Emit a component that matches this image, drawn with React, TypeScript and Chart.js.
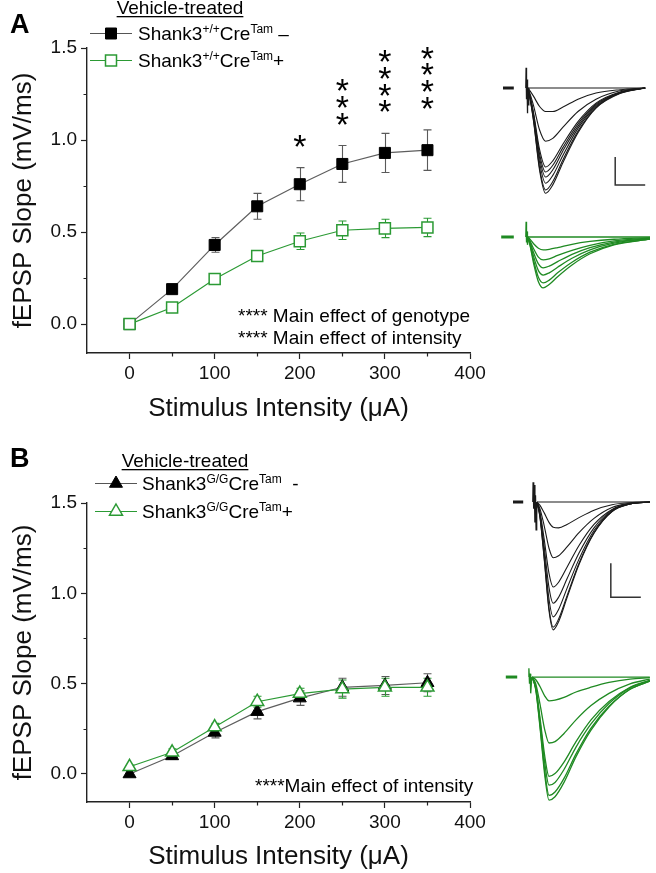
import React, { useEffect, useRef } from 'react';
import { Chart, registerables } from 'chart.js';

Chart.register(...registerables);

const FONT = '"Liberation Sans", Arial, Helvetica, sans-serif';
const GREEN = '#2b9a34';
const TRACE_GREEN = '#1f8a22';

// ---------- summary data (fEPSP slope, mV/ms) ----------
const intensities = [0, 50, 100, 150, 200, 250, 300, 350];
const xTickValues = [0, 100, 200, 300, 400];
const yTickValues = [0, 0.5, 1.0, 1.5];

const aCtrlMean = [0.0, 0.19, 0.43, 0.64, 0.76, 0.87, 0.93, 0.945];
const aCtrlErr = [0.01, 0.02, 0.04, 0.07, 0.09, 0.1, 0.106, 0.11];
const aTamMean = [0.0, 0.09, 0.245, 0.37, 0.45, 0.51, 0.52, 0.525];
const aTamErr = [0.01, 0.02, 0.015, 0.03, 0.045, 0.05, 0.05, 0.05];
const aStars = [0, 0, 0, 0, 1, 3, 4, 4];

const bCtrlMean = [0.0, 0.1, 0.23, 0.345, 0.42, 0.48, 0.49, 0.505];
const bCtrlErr = [0.01, 0.02, 0.03, 0.04, 0.04, 0.05, 0.05, 0.05];
const bTamMean = [0.04, 0.12, 0.26, 0.4, 0.445, 0.47, 0.48, 0.48];
const bTamErr = [0.01, 0.02, 0.02, 0.03, 0.03, 0.05, 0.05, 0.05];

const aNotes = ['**** Main effect of genotype', '**** Main effect of intensity'];
const bNotes = ['****Main effect of intensity'];

// ---------- example traces (time ms, mV) ----------
const aCtrlTime = [4.6, 5.0, 5.6, 6.6, 7.6, 8.8, 10.5, 13, 16, 20, 24.2];
const aCtrlTraces = [
  [0, 0, 0, 0, 0, 0, 0, 0, 0, 0, 0],
  [0, -0.05, -0.15, -0.33, -0.42, -0.42, -0.34, -0.2, -0.09, -0.03, 0],
  [0, -0.1, -0.32, -0.75, -0.95, -0.9, -0.7, -0.42, -0.2, -0.05, 0],
  [0, -0.14, -0.45, -1.1, -1.41, -1.3, -1.0, -0.6, -0.27, -0.07, 0],
  [0, -0.15, -0.48, -1.18, -1.5, -1.38, -1.06, -0.64, -0.29, -0.08, 0],
  [0, -0.16, -0.5, -1.25, -1.59, -1.46, -1.12, -0.68, -0.31, -0.08, 0],
  [0, -0.17, -0.54, -1.33, -1.7, -1.56, -1.2, -0.72, -0.33, -0.09, 0],
  [0, -0.18, -0.58, -1.43, -1.82, -1.67, -1.28, -0.77, -0.35, -0.09, 0],
  [0, -0.19, -0.6, -1.47, -1.88, -1.73, -1.33, -0.8, -0.36, -0.1, 0],
];
const aCtrlArtifact = [[4.3, 0], [4.35, 0.36], [4.42, -0.2], [4.5, 0.15], [4.56, -0.45], [4.62, -0.1], [4.7, -0.3], [4.8, 0]];
const aCtrlDash = [[0.5, 0], [2.3, 0]];
const aScaleBar = [[24.2, -1.73], [19.2, -1.73], [19.2, -1.23]];

const aTamTime = [4.6, 5.0, 5.6, 6.4, 7.2, 8.2, 9.6, 12, 15, 19, 25];
const aTamTraces = [
  [0, 0, 0, 0, 0, 0, 0, 0, 0, 0, 0],
  [0, -0.04, -0.12, -0.2, -0.23, -0.22, -0.19, -0.13, -0.08, -0.04, -0.01],
  [0, -0.07, -0.21, -0.36, -0.41, -0.39, -0.33, -0.24, -0.15, -0.07, -0.02],
  [0, -0.09, -0.28, -0.48, -0.55, -0.52, -0.44, -0.31, -0.19, -0.09, -0.03],
  [0, -0.11, -0.35, -0.6, -0.68, -0.64, -0.54, -0.38, -0.23, -0.11, -0.03],
  [0, -0.13, -0.42, -0.72, -0.82, -0.77, -0.64, -0.45, -0.27, -0.13, -0.04],
  [0, -0.15, -0.47, -0.8, -0.91, -0.85, -0.71, -0.5, -0.3, -0.14, -0.04],
];
const aTamArtifact = [[4.3, 0], [4.35, 0.27], [4.42, -0.1], [4.5, 0.1], [4.58, -0.14], [4.7, 0]];
const aTamDash = [[0.2, 0], [2.3, 0]];

const bCtrlTime = [4.0, 4.5, 5.2, 6.0, 6.7, 7.6, 9, 11, 13.5, 16.5, 19.5, 22.8];
const bCtrlTraces = [
  [0, 0, 0, 0, 0, 0, 0, 0, 0, 0, 0, 0],
  [0, -0.05, -0.16, -0.3, -0.37, -0.38, -0.33, -0.23, -0.12, -0.04, -0.01, 0],
  [0, -0.1, -0.35, -0.68, -0.82, -0.79, -0.66, -0.45, -0.24, -0.08, -0.02, 0],
  [0, -0.15, -0.55, -1.05, -1.25, -1.18, -0.96, -0.64, -0.33, -0.11, -0.02, 0],
  [0, -0.18, -0.66, -1.26, -1.49, -1.4, -1.13, -0.75, -0.38, -0.12, -0.03, 0],
  [0, -0.2, -0.75, -1.43, -1.69, -1.58, -1.27, -0.84, -0.42, -0.13, -0.03, 0],
  [0, -0.22, -0.82, -1.56, -1.84, -1.72, -1.38, -0.9, -0.45, -0.14, -0.03, 0],
  [0, -0.23, -0.84, -1.6, -1.88, -1.76, -1.41, -0.92, -0.46, -0.14, -0.03, 0],
];
const bCtrlArtifact = [[3.3, 0], [3.35, 0.29], [3.45, -0.1], [3.55, 0.25], [3.65, -0.3], [3.75, 0.1], [3.85, -0.41], [3.95, -0.2], [4.0, 0]];
const bCtrlDash = [[0, 0], [1.7, 0]];
const bScaleBar = [[21.3, -1.4], [16.3, -1.4], [16.3, -0.9]];

const bTamTime = [3.2, 3.8, 4.5, 5.3, 6.0, 7.0, 8.5, 10.5, 13, 16, 19.5, 22.8];
const bTamTraces = [
  [0, 0, 0, 0, 0, 0, 0, 0, 0, 0, 0, 0],
  [0, -0.04, -0.14, -0.28, -0.35, -0.34, -0.3, -0.22, -0.15, -0.08, -0.03, -0.01],
  [0, -0.1, -0.4, -0.78, -0.97, -0.95, -0.83, -0.63, -0.42, -0.24, -0.1, -0.03],
  [0, -0.15, -0.6, -1.17, -1.46, -1.42, -1.25, -0.95, -0.63, -0.36, -0.15, -0.05],
  [0, -0.16, -0.65, -1.27, -1.59, -1.55, -1.36, -1.03, -0.69, -0.39, -0.16, -0.05],
  [0, -0.18, -0.71, -1.39, -1.74, -1.69, -1.49, -1.13, -0.75, -0.43, -0.18, -0.06],
  [0, -0.19, -0.74, -1.45, -1.81, -1.76, -1.55, -1.17, -0.78, -0.44, -0.18, -0.06],
];
const bTamArtifact = [[2.6, 0], [2.65, 0.13], [2.75, -0.1], [2.85, 0.05], [2.95, -0.24], [3.1, -0.05], [3.2, 0]];
const bTamDash = [[-1.2, 0], [0.7, 0]];

// ---------- helpers ----------
type Seg = { t: string; sup?: boolean };

function drawRich(ctx: CanvasRenderingContext2D, segs: Seg[], x: number, y: number) {
  let cx = x;
  for (const s of segs) {
    ctx.font = `${s.sup ? 12 : 19}px ${FONT}`;
    ctx.fillText(s.t, cx, s.sup ? y - 7 : y);
    cx += ctx.measureText(s.t).width;
  }
}

function drawMarker(ctx: CanvasRenderingContext2D, kind: string, filled: boolean, color: string, x: number, y: number) {
  ctx.save();
  ctx.beginPath();
  if (kind === 'rect') {
    ctx.rect(x - 5.5, y - 5.5, 11, 11);
  } else {
    const r = 7.5;
    ctx.moveTo(x, y - r);
    ctx.lineTo(x + r * 0.866, y + r * 0.5);
    ctx.lineTo(x - r * 0.866, y + r * 0.5);
    ctx.closePath();
  }
  ctx.fillStyle = filled ? color : '#fff';
  ctx.fill();
  ctx.lineWidth = filled ? 1 : 1.5;
  ctx.strokeStyle = color;
  ctx.stroke();
  ctx.restore();
}

const errorBarPlugin = {
  id: 'errorBars',
  beforeDatasetsDraw(chart: any) {
    const { ctx } = chart;
    const xs = chart.scales.x;
    const ys = chart.scales.y;
    chart.data.datasets.forEach((ds: any) => {
      if (!ds.errors) return;
      ctx.save();
      ctx.strokeStyle = ds.errorColor;
      ctx.lineWidth = 1.1;
      ds.data.forEach((p: any, j: number) => {
        const e = ds.errors[j];
        const px = Math.round(xs.getPixelForValue(p.x)) + 0.5;
        const top = ys.getPixelForValue(p.y + e);
        const bot = ys.getPixelForValue(p.y - e);
        ctx.beginPath();
        ctx.moveTo(px, top);
        ctx.lineTo(px, bot);
        ctx.moveTo(px - 4, top);
        ctx.lineTo(px + 4, top);
        ctx.moveTo(px - 4, bot);
        ctx.lineTo(px + 4, bot);
        ctx.stroke();
      });
      ctx.restore();
    });
  },
};

const isMajorX = (v: number) => xTickValues.includes(v);
const isMajorY = (v: number) => yTickValues.some((t) => Math.abs(t - v) < 1e-6);

type PanelSpec = {
  letter: string;
  letterY: number;
  headerY: number;
  rowY: number[];
  lineX: [number, number];
  textX: number;
  headerX: number;
  marker: string;
  markerRadius: number;
  ctrlMean: number[];
  ctrlErr: number[];
  tamMean: number[];
  tamErr: number[];
  ctrlLabel: Seg[];
  tamLabel: Seg[];
  stars?: number[];
  notes: string[];
  noteX: number;
  noteY: number[];
  yMin: number;
  padTop: number;
  xHeight: number;
  xTitlePad: number;
};

function makeDecor(p: PanelSpec) {
  return {
    id: 'decor' + p.letter,
    afterDraw(chart: any) {
      const { ctx } = chart;
      const xs = chart.scales.x;
      const ys = chart.scales.y;
      ctx.save();
      ctx.fillStyle = '#000';
      ctx.textBaseline = 'alphabetic';

      // minor ticks
      ctx.strokeStyle = '#222';
      ctx.lineWidth = 1.2;
      ctx.beginPath();
      xs.ticks.forEach((t: any) => {
        if (!isMajorX(t.value) && t.value > xs.min) {
          const px = Math.round(xs.getPixelForValue(t.value)) + 0.5;
          ctx.moveTo(px, xs.top);
          ctx.lineTo(px, xs.top + 3.5);
        }
      });
      ys.ticks.forEach((t: any) => {
        if (!isMajorY(t.value) && t.value > ys.min + 0.01) {
          const py = Math.round(ys.getPixelForValue(t.value)) + 0.5;
          ctx.moveTo(ys.right, py);
          ctx.lineTo(ys.right - 3.5, py);
        }
      });
      ctx.stroke();

      // panel letter
      ctx.textAlign = 'left';
      ctx.font = `bold 27px ${FONT}`;
      ctx.fillText(p.letter, 10, p.letterY);

      // legend header
      ctx.font = `19px ${FONT}`;
      ctx.textAlign = 'center';
      ctx.fillText('Vehicle-treated', p.headerX, p.headerY);
      const hw = ctx.measureText('Vehicle-treated').width;
      ctx.fillRect(p.headerX - hw / 2, p.headerY + 2, hw, 1.3);

      // legend rows
      ctx.textAlign = 'left';
      const rows = [
        { y: p.rowY[0], color: '#000', line: '#555', filled: true, label: p.ctrlLabel },
        { y: p.rowY[1], color: GREEN, line: GREEN, filled: false, label: p.tamLabel },
      ];
      rows.forEach((r) => {
        ctx.strokeStyle = r.line;
        ctx.lineWidth = 1.2;
        ctx.beginPath();
        ctx.moveTo(p.lineX[0], r.y + 0.5);
        ctx.lineTo(p.lineX[1], r.y + 0.5);
        ctx.stroke();
        drawMarker(ctx, p.marker, r.filled, r.color, (p.lineX[0] + p.lineX[1]) / 2, r.y + 0.5);
        ctx.fillStyle = '#000';
        drawRich(ctx, r.label, p.textX, r.y + 7);
      });

      // significance stars
      if (p.stars) {
        ctx.font = `34px ${FONT}`;
        ctx.textAlign = 'center';
        const m = ctx.measureText('*');
        const mid = (m.actualBoundingBoxAscent - m.actualBoundingBoxDescent) / 2;
        p.stars.forEach((n, i) => {
          const px = xs.getPixelForValue(intensities[i]);
          const top = ys.getPixelForValue(p.ctrlMean[i] + p.ctrlErr[i]);
          for (let k = 0; k < n; k++) {
            const cy = top - 27 - k * 16.8;
            ctx.fillText('*', px, cy + mid);
          }
        });
      }

      // notes
      ctx.textAlign = 'left';
      ctx.font = `19px ${FONT}`;
      p.notes.forEach((t, i) => ctx.fillText(t, p.noteX, p.noteY[i]));
      ctx.restore();
    },
  };
}

function mainConfig(p: PanelSpec, width: number): any {
  const tickColor = (c: any) => (c.tick && isMajorX(c.tick.value) ? '#222' : 'rgba(0,0,0,0)');
  const tickColorY = (c: any) => (c.tick && isMajorY(c.tick.value) ? '#222' : 'rgba(0,0,0,0)');
  return {
    type: 'scatter',
    data: {
      datasets: [
        {
          label: 'Cre-Tam minus',
          data: intensities.map((x, i) => ({ x, y: p.ctrlMean[i] })),
          errors: p.ctrlErr,
          errorColor: '#5a5a5a',
          showLine: true,
          borderColor: '#5e5e5e',
          borderWidth: 1.2,
          pointStyle: p.marker,
          pointRadius: p.markerRadius,
          pointBackgroundColor: '#000',
          pointBorderColor: '#000',
          pointBorderWidth: 1,
          order: 1,
        },
        {
          label: 'Cre-Tam plus',
          data: intensities.map((x, i) => ({ x, y: p.tamMean[i] })),
          errors: p.tamErr,
          errorColor: GREEN,
          showLine: true,
          borderColor: GREEN,
          borderWidth: 1.2,
          pointStyle: p.marker,
          pointRadius: p.markerRadius,
          pointBackgroundColor: '#fff',
          pointBorderColor: GREEN,
          pointBorderWidth: 1.5,
          order: 0,
        },
      ],
    },
    options: {
      animation: false,
      responsive: false,
      events: [],
      layout: { padding: { left: 0, top: p.padTop, right: width - 470, bottom: 0 } },
      plugins: { legend: { display: false }, tooltip: { enabled: false } },
      scales: {
        x: {
          type: 'linear',
          min: -50,
          max: 400,
          border: { display: true, color: '#222', width: 1.4 },
          grid: { drawOnChartArea: false, drawTicks: true, tickLength: 6, color: tickColor, tickColor: tickColor, tickWidth: 1.2 },
          ticks: {
            stepSize: 50,
            autoSkip: false,
            maxRotation: 0,
            padding: 3,
            color: '#111',
            font: { size: 19, family: FONT },
            callback: (v: number) => (isMajorX(v) ? String(v) : ''),
          },
          title: {
            display: true,
            text: 'Stimulus Intensity (μA)',
            color: '#111',
            font: { size: 26, family: FONT },
            padding: { top: 0, bottom: p.xTitlePad },
          },
          afterFit: (s: any) => {
            s.height = p.xHeight;
          },
        },
        y: {
          type: 'linear',
          min: p.yMin,
          max: 1.5,
          border: { display: true, color: '#222', width: 1.4 },
          grid: { drawOnChartArea: false, drawTicks: true, tickLength: 6, color: tickColorY, tickColor: tickColorY, tickWidth: 1.2 },
          ticks: {
            stepSize: 0.25,
            autoSkip: false,
            padding: 4,
            color: '#111',
            font: { size: 19, family: FONT },
            callback: (v: number) => (isMajorY(v) ? v.toFixed(1) : ''),
          },
          title: {
            display: true,
            text: 'fEPSP Slope (mV/ms)',
            color: '#111',
            font: { size: 26, family: FONT },
            padding: { top: 8, bottom: 0 },
          },
          afterFit: (s: any) => {
            s.width = 87;
          },
        },
      },
    },
    plugins: [errorBarPlugin, makeDecor(p)],
  };
}

type TraceSpec = {
  xMin: number;
  xMax: number;
  kMin: number;
  kMax: number;
  gMin: number;
  gMax: number;
  ctrlTime: number[];
  ctrlTraces: number[][];
  ctrlArtifact: number[][];
  ctrlDash: number[][];
  scaleBar: number[][];
  tamTime: number[];
  tamTraces: number[][];
  tamArtifact: number[][];
  tamDash: number[][];
};

function traceConfig(t: TraceSpec): any {
  const pts = (arr: number[][]) => arr.map(([x, y]) => ({ x, y }));
  const line = (data: any[], color: string, axis: string, width: number, smooth: boolean) => ({
    data,
    yAxisID: axis,
    showLine: true,
    borderColor: color,
    borderWidth: width,
    pointRadius: 0,
    cubicInterpolationMode: smooth ? 'monotone' : 'default',
    tension: 0,
  });
  const datasets: any[] = [];
  t.tamTraces.forEach((tr) =>
    datasets.push(line(t.tamTime.map((x, i) => ({ x, y: tr[i] })), TRACE_GREEN, 'yG', 1.3, true))
  );
  datasets.push(line(pts(t.tamArtifact), TRACE_GREEN, 'yG', 1.3, false));
  datasets.push(line(pts(t.tamDash), TRACE_GREEN, 'yG', 3, false));
  t.ctrlTraces.forEach((tr) =>
    datasets.push(line(t.ctrlTime.map((x, i) => ({ x, y: tr[i] })), '#1a1a1a', 'yK', 1.1, true))
  );
  datasets.push(line(pts(t.ctrlArtifact), '#1a1a1a', 'yK', 1.3, false));
  datasets.push(line(pts(t.ctrlDash), '#1a1a1a', 'yK', 3, false));
  datasets.push(line(pts(t.scaleBar), '#333', 'yK', 1.5, false));
  return {
    type: 'scatter',
    data: { datasets },
    options: {
      animation: false,
      responsive: false,
      events: [],
      layout: { padding: 0 },
      plugins: { legend: { display: false }, tooltip: { enabled: false } },
      scales: {
        x: { type: 'linear', display: false, min: t.xMin, max: t.xMax },
        yK: { type: 'linear', display: false, min: t.kMin, max: t.kMax },
        yG: { type: 'linear', display: false, min: t.gMin, max: t.gMax },
      },
    },
  };
}

function ChartCanvas({ config, left, top, width, height }: { config: () => any; left: number; top: number; width: number; height: number }) {
  const ref = useRef<HTMLCanvasElement | null>(null);
  useEffect(() => {
    if (!ref.current) return;
    const c = new Chart(ref.current, config());
    return () => c.destroy();
  }, []);
  return (
    <canvas
      ref={ref}
      width={width}
      height={height}
      style={{ position: 'absolute', left, top, width, height, display: 'block' }}
    />
  );
}

const panelA: PanelSpec = {
  letter: 'A',
  letterY: 33,
  headerY: 14,
  headerX: 180,
  rowY: [33, 60],
  lineX: [90, 132],
  textX: 138,
  marker: 'rect',
  markerRadius: 7.8,
  ctrlMean: aCtrlMean,
  ctrlErr: aCtrlErr,
  tamMean: aTamMean,
  tamErr: aTamErr,
  ctrlLabel: [{ t: 'Shank3' }, { t: '+/+', sup: true }, { t: 'Cre' }, { t: 'Tam', sup: true }, { t: ' –' }],
  tamLabel: [{ t: 'Shank3' }, { t: '+/+', sup: true }, { t: 'Cre' }, { t: 'Tam', sup: true }, { t: '+' }],
  stars: aStars,
  notes: aNotes,
  noteX: 238,
  noteY: [322, 344],
  yMin: -0.157,
  padTop: 48,
  xHeight: 77,
  xTitlePad: 6,
};

const panelB: PanelSpec = {
  letter: 'B',
  letterY: 27,
  headerY: 27,
  headerX: 185,
  rowY: [43, 71],
  lineX: [95, 137],
  textX: 142,
  marker: 'triangle',
  markerRadius: 7.5,
  ctrlMean: bCtrlMean,
  ctrlErr: bCtrlErr,
  tamMean: bTamMean,
  tamErr: bTamErr,
  ctrlLabel: [{ t: 'Shank3' }, { t: 'G/G', sup: true }, { t: 'Cre' }, { t: 'Tam', sup: true }, { t: '  -' }],
  tamLabel: [{ t: 'Shank3' }, { t: 'G/G', sup: true }, { t: 'Cre' }, { t: 'Tam', sup: true }, { t: '+' }],
  notes: bNotes,
  noteX: 255,
  noteY: [352],
  yMin: -0.155,
  padTop: 63,
  xHeight: 71,
  xTitlePad: 1,
};

const tracesA: TraceSpec = {
  xMin: -1,
  xMax: 26,
  kMin: -3.964,
  kMax: 0.5,
  gMin: -1.304,
  gMax: 3.161,
  ctrlTime: aCtrlTime,
  ctrlTraces: aCtrlTraces,
  ctrlArtifact: aCtrlArtifact,
  ctrlDash: aCtrlDash,
  scaleBar: aScaleBar,
  tamTime: aTamTime,
  tamTraces: aTamTraces,
  tamArtifact: aTamArtifact,
  tamDash: aTamDash,
};

const tracesB: TraceSpec = {
  xMin: -3,
  xMax: 23.83,
  kMin: -4.603,
  kMax: 0.397,
  gMin: -2.029,
  gMax: 2.971,
  ctrlTime: bCtrlTime,
  ctrlTraces: bCtrlTraces,
  ctrlArtifact: bCtrlArtifact,
  ctrlDash: bCtrlDash,
  scaleBar: bScaleBar,
  tamTime: bTamTime,
  tamTraces: bTamTraces,
  tamArtifact: bTamArtifact,
  tamDash: bTamDash,
};

export default function App() {
  return (
    <div style={{ position: 'absolute', left: 0, top: 0, width: 656, height: 873, background: '#fff', overflow: 'hidden' }}>
      <ChartCanvas config={() => mainConfig(panelA, 490)} left={0} top={0} width={490} height={430} />
      <ChartCanvas config={() => traceConfig(tracesA)} left={494} top={60} width={162} height={250} />
      <ChartCanvas config={() => mainConfig(panelB, 490)} left={0} top={440} width={490} height={433} />
      <ChartCanvas config={() => traceConfig(tracesB)} left={495} top={475} width={161} height={340} />
    </div>
  );
}
